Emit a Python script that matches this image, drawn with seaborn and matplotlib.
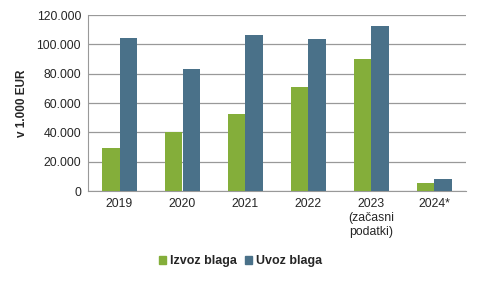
import pandas as pd
import matplotlib
matplotlib.use("Agg")
import matplotlib.pyplot as plt
import seaborn as sns
from matplotlib.ticker import FuncFormatter

# Data (in 1.000 EUR)
years = ["2019", "2020", "2021", "2022", "2023\n(začasni\npodatki)", "2024*"]
izvoz = [29400, 39900, 52600, 70600, 89700, 5700]
uvoz = [104100, 83100, 106500, 103400, 112500, 8200]
series_names = ["Izvoz blaga", "Uvoz blaga"]
colors = ["#84AE3A", "#4A7189"]

df = pd.DataFrame({
    "Leto": years * 2,
    "Vrednost": izvoz + uvoz,
    "Serija": [series_names[0]] * len(years) + [series_names[1]] * len(years),
})

sns.set_style("white")
plt.rcParams["font.family"] = ["Liberation Sans", "DejaVu Sans"]

fig = plt.figure(figsize=(4.81, 2.81), dpi=100)
ax = fig.add_axes([88 / 481, 1 - 191 / 281, (466 - 88) / 481, (191 - 15) / 281])

sns.barplot(data=df, x="Leto", y="Vrednost", hue="Serija", palette=colors,
            width=0.57, saturation=1, linewidth=0, ax=ax, legend=False, zorder=3)

ax.set_ylim(0, 120000)
ax.set_xlim(-0.5, 5.5)
ax.set_yticks(range(0, 120001, 20000))
ax.yaxis.set_major_formatter(FuncFormatter(lambda v, p: f"{int(v):,}".replace(",", ".")))
ax.grid(axis="y", color="#999999", linewidth=0.9, zorder=0)
ax.set_axisbelow(True)

for s in ["top", "right"]:
    ax.spines[s].set_visible(False)
ax.spines["left"].set_color("#999999")
ax.spines["bottom"].set_color("#999999")
ax.tick_params(axis="y", length=3, color="#999999", labelsize=8.8, pad=2)
ax.tick_params(axis="x", length=0, labelsize=8.8, pad=5)
ax.set_xlabel("")
ax.set_ylabel("v 1.000 EUR", fontsize=8.5, fontweight="bold", labelpad=6)

handles = [plt.Rectangle((0, 0), 1, 1, color=c) for c in colors]
fig.legend(handles, series_names, loc="center", bbox_to_anchor=(0.5, 1 - 261 / 281),
           ncol=2, frameon=False, handlelength=0.6, handleheight=0.6,
           handletextpad=0.3, columnspacing=0.6, prop={"weight": "bold", "size": 9})

fig.savefig("out.png", dpi=100)
